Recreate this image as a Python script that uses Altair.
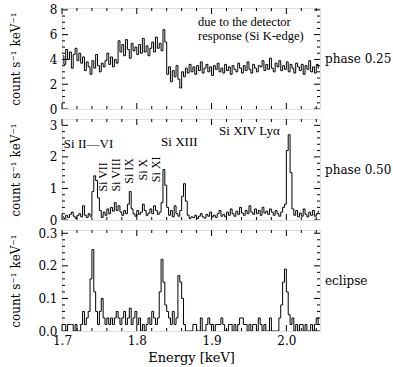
import altair as alt
import pandas as pd

# ---------------- data ----------------
E_START = 1.70      # first bin lower edge [keV]
BIN = 0.0025        # bin width [keV]
X_DOMAIN = [1.70, 2.045]

phase025 = [
    4.3, 3.6, 4.8, 4.0, 4.6, 3.3, 4.4, 4.9, 3.9, 4.5, 3.7, 4.2,
    3.1, 3.8, 3.4, 2.8, 3.9, 3.3, 4.4, 3.5, 3.0, 3.7, 3.4, 3.9,
    4.5, 3.6, 4.2, 3.4, 4.0, 3.7,
    5.5, 4.6, 5.2, 4.3, 5.6, 4.8, 4.1, 5.3, 4.7, 5.0, 4.4, 5.2,
    4.5, 5.7, 4.6, 5.1, 4.3, 4.9, 5.4, 4.6, 5.8, 4.9, 5.3, 4.7,
    6.4, 5.4,
    2.8, 3.4, 2.2, 3.1, 2.6, 3.5, 2.4, 1.7, 3.0, 2.6,
    3.3, 2.9, 3.6, 3.0, 3.4, 2.8, 3.5, 3.1, 3.8, 2.9,
    3.3, 3.6, 3.0, 3.4, 2.7, 3.5, 3.2, 3.7, 3.0, 3.3,
    2.9, 3.6, 3.1, 3.4, 2.8, 3.5, 3.2, 3.0, 3.7, 3.3,
    2.9, 3.5, 3.1, 3.8, 3.2, 2.9, 3.6, 3.3, 3.0, 3.5,
    3.4, 3.9, 3.1, 3.6, 3.2, 4.1, 3.3, 3.0, 3.7, 3.4,
    3.9, 3.1, 3.5, 3.2, 3.8, 3.0, 3.6, 3.3, 2.9, 3.7,
    3.4, 3.1, 3.6, 2.8, 3.5, 3.2, 3.9, 3.0, 3.4, 2.9,
    3.6, 3.3,
]

phase050 = [
    0.10, 0.05, 0.15, 0.08, 0.18, 0.25, 0.12, 0.05, 0.14, 0.20, 0.10, 0.45,
    0.15, 0.08, 0.20, 0.12,
    0.90, 1.40, 1.25, 0.70, 0.30,
    0.08, 0.25, 0.15, 0.35, 0.20, 0.40, 0.28, 0.55, 0.30, 0.45, 0.25,
    0.15, 0.30, 0.20, 0.50, 0.90, 0.35,
    0.20, 0.12, 0.30, 0.18, 0.25, 0.50, 0.30, 0.15, 0.22, 0.35, 0.20, 0.45, 0.30, 0.18,
    0.25, 0.55, 1.60, 1.10, 0.40, 0.15,
    0.30, 0.10, 0.45, 0.20, 0.12, 0.30, 0.75, 1.15,
    0.60, 0.15, 0.05, 0.10,
    0.08, 0.15, 0.05, 0.12, 0.20, 0.10, 0.06, 0.18, 0.12, 0.25,
    0.10, 0.15, 0.08, 0.20, 0.30, 0.12, 0.18, 0.10, 0.25, 0.15,
    0.35, 0.20, 0.12, 0.28, 0.18, 0.40, 0.22, 0.15, 0.30, 0.20,
    0.45, 0.25, 0.18, 0.35, 0.20, 0.30, 0.15, 0.40, 0.22, 0.28,
    0.18, 0.35, 0.25, 0.15, 0.30, 0.20, 0.12, 0.25, 0.40,
    0.50, 2.20, 2.70, 1.50, 0.35,
    0.15, 0.30, 0.10, 0.22, 0.12, 0.35, 0.18, 0.10, 0.25, 0.15, 0.30, 0.12, 0.20, 0.28,
]

eclipse = [
    0.02, 0.02, 0.00, 0.02, 0.02, 0.02, 0.00, 0.02,
    0.00, 0.00,
    0.02, 0.06, 0.02, 0.04, 0.06,
    0.16, 0.25, 0.12, 0.06, 0.02,
    0.06, 0.10, 0.04, 0.02, 0.04,
    0.02, 0.04, 0.02, 0.04, 0.06, 0.04, 0.02, 0.04, 0.06, 0.02, 0.04,
    0.07, 0.02, 0.04, 0.06, 0.02, 0.04,
    0.00, 0.02, 0.00, 0.02,
    0.04, 0.02, 0.06, 0.04, 0.02, 0.04,
    0.12, 0.22, 0.15, 0.08,
    0.06, 0.04, 0.02, 0.06, 0.02, 0.04,
    0.17, 0.15, 0.10, 0.02,
    0.00, 0.00, 0.00, 0.00, 0.02,
    0.02, 0.00, 0.00, 0.04, 0.00,
    0.00, 0.02, 0.04, 0.02, 0.02, 0.00, 0.02, 0.02, 0.02, 0.04, 0.02, 0.00, 0.00, 0.02,
    0.02, 0.00, 0.02, 0.00, 0.02, 0.04,
    0.04, 0.02, 0.02, 0.00,
    0.02, 0.00, 0.02, 0.02, 0.00, 0.04, 0.02, 0.00, 0.02, 0.00, 0.00, 0.04, 0.00, 0.00, 0.00,
    0.00, 0.04, 0.08, 0.15, 0.19, 0.12,
    0.05, 0.02, 0.04,
    0.00, 0.02, 0.00, 0.02, 0.02, 0.00, 0.02, 0.00, 0.00, 0.02, 0.00, 0.02, 0.04, 0.02,
]

x_major = [1.7, 1.8, 1.9, 2.0]
x_minor = [1.72, 1.74, 1.76, 1.78, 1.82, 1.84, 1.86, 1.88, 1.92, 1.94, 1.96, 1.98, 2.02, 2.04]

p1_major = [0, 2, 4, 6, 8]
p1_minor = [0.5, 1, 1.5, 2.5, 3, 3.5, 4.5, 5, 5.5, 6.5, 7, 7.5]
p2_major = [0, 1, 2, 3]
p2_minor = [0.2, 0.4, 0.6, 0.8, 1.2, 1.4, 1.6, 1.8, 2.2, 2.4, 2.6, 2.8]
p3_major = [0, 0.1, 0.2, 0.3]
p3_minor = [0.02, 0.04, 0.06, 0.08, 0.12, 0.14, 0.16, 0.18, 0.22, 0.24, 0.26, 0.28]

p1_notes = ["due to the detector", "response (Si K-edge)"]
p1_notes_E = [1.882, 1.882]
p1_notes_v = [7.0, 5.9]

p2_flat = ["Si II\u2014VI", "Si XIII", "Si XIV Ly\u03b1"]
p2_flat_E = [1.7025, 1.8325, 1.910]
p2_flat_v = [2.40, 2.48, 2.82]

p2_rot = ["Si VII", "Si VIII", "Si IX", "Si X", "Si XI"]
p2_rot_E = [1.755, 1.772, 1.790, 1.808, 1.826]
p2_rot_v = [0.90, 0.90, 1.15, 1.25, 1.20]

side_labels = ["phase 0.25", "phase 0.50", "eclipse"]
Y_TITLE = "count s\u207b\u00b9 keV\u207b\u00b9"
X_TITLE = "Energy [keV]"

# ---------------- layout / style ----------------
W, H = 258, 101
FONT = "DejaVu Serif, serif"
TFONT = "Liberation Serif, Times New Roman, serif"
MAJ, MIN = 6, 3


def spectrum_df(vals):
    return pd.DataFrame({"E": [E_START + BIN * (i + 0.5) for i in range(len(vals))], "v": vals})


def make_panel(vals, ydom, ymaj, ymin, yfmt, side, show_x, extra):
    if show_x:
        xaxis = alt.Axis(values=x_major, format=".1f", title=X_TITLE, ticks=False, domain=False,
                         grid=False, labelFont=FONT, labelFontSize=12, labelPadding=4,
                         labelFlush=False,
                         titleFont=FONT, titleFontSize=13, titleFontWeight="normal",
                         titlePadding=5, labelColor="black", titleColor="black")
    else:
        xaxis = None
    yaxis = alt.Axis(values=ymaj, format=yfmt, title=Y_TITLE, ticks=False, domain=False,
                     grid=False, labelFont=FONT, labelFontSize=12, labelPadding=5,
                     labelFlush=False,
                     titleFont=FONT, titleFontSize=12, titleFontWeight="normal",
                     minExtent=28, maxExtent=28, titlePadding=12,
                     labelColor="black", titleColor="black")
    xs = alt.Scale(domain=X_DOMAIN, nice=False, zero=False)
    ys = alt.Scale(domain=ydom, nice=False, zero=False)

    def X():
        return alt.X("E:Q", scale=xs, axis=xaxis)

    def Y():
        return alt.Y("v:Q", scale=ys, axis=yaxis)

    line = alt.Chart(spectrum_df(vals)).mark_line(
        interpolate="step", color="black", strokeWidth=1, clip=True
    ).encode(x=X(), y=Y())

    layers = [line]
    for vals_t, ln in ((x_major, MAJ), (x_minor, MIN)):
        d = alt.Chart(pd.DataFrame({"E": vals_t}))
        layers.append(d.mark_rule(color="black", strokeWidth=1).encode(
            x=X(), y=alt.value(H), y2=alt.value(H - ln)))
        layers.append(d.mark_rule(color="black", strokeWidth=1).encode(
            x=X(), y=alt.value(0), y2=alt.value(ln)))
    for vals_t, ln in ((ymaj, MAJ), (ymin, MIN)):
        d = alt.Chart(pd.DataFrame({"v": vals_t}))
        layers.append(d.mark_rule(color="black", strokeWidth=1, clip=True).encode(
            y=Y(), x=alt.value(0), x2=alt.value(ln)))
        layers.append(d.mark_rule(color="black", strokeWidth=1, clip=True).encode(
            y=Y(), x=alt.value(W), x2=alt.value(W - ln)))

    for spec in extra:
        df, kw = spec
        layers.append(alt.Chart(df).mark_text(color="black", font=TFONT, **kw).encode(
            x=X(), y=Y(), text="t:N"))

    layers.append(alt.Chart(pd.DataFrame({"t": [side]})).mark_text(
        align="left", baseline="middle", font=FONT, fontSize=12, color="black"
    ).encode(x=alt.value(W + 5), y=alt.value(H / 2), text="t:N"))

    return alt.layer(*layers).properties(width=W, height=H)


p1 = make_panel(phase025, [0, 8.15], p1_major, p1_minor, "d", side_labels[0], False, [
    (pd.DataFrame({"E": p1_notes_E, "v": p1_notes_v, "t": p1_notes}),
     dict(align="left", baseline="middle", fontSize=12.5)),
])
p2 = make_panel(phase050, [0, 3.2], p2_major, p2_minor, "d", side_labels[1], False, [
    (pd.DataFrame({"E": p2_flat_E, "v": p2_flat_v, "t": p2_flat}),
     dict(align="left", baseline="middle", fontSize=13)),
    (pd.DataFrame({"E": p2_rot_E, "v": p2_rot_v, "t": p2_rot}),
     dict(align="left", baseline="middle", fontSize=12, angle=270)),
])
p3 = make_panel(eclipse, [0, 0.31], p3_major, p3_minor, ".1f", side_labels[2], True, [])

chart = alt.vconcat(p1, p2, p3, spacing=10, bounds="flush").properties(
    padding={"left": 8, "top": 3, "right": 0, "bottom": 0}
).configure_view(stroke="black", strokeWidth=1).configure(background="white")

chart.save("out.html", embed_options={"renderer": "svg", "actions": False})
